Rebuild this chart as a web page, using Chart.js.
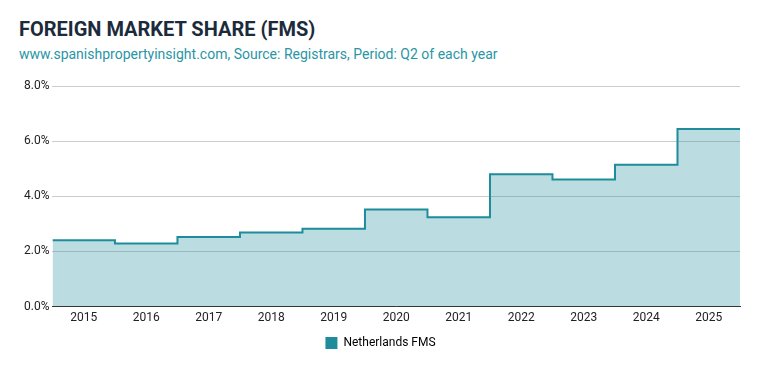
<!DOCTYPE html>
<html>
<head>
<meta charset="utf-8">
<script src="https://cdn.jsdelivr.net/npm/chart.js@4/dist/chart.umd.min.js"></script>
<style>
    body { margin: 0; background: #fff; font-family: Roboto, sans-serif; }
    #wrap { position: relative; width: 759px; height: 371px; }
    h1 { position: absolute; left: 19px; top: 17px; margin: 0; font-size: 20px; font-weight: 700; color: #1c2b3b; }
    p { position: absolute; left: 19px; top: 46px; margin: 0; font-size: 14px; color: #2a95a5; }
    #box { position: absolute; left: 0; top: 70px; width: 759px; height: 301px; }
</style>
</head>
<body>
<div id="wrap">
    <h1>FOREIGN MARKET SHARE (FMS)</h1>
    <p>www.spanishpropertyinsight.com, Source: Registrars, Period: Q2 of each year</p>
    <div id="box"><canvas id="fms-chart"></canvas></div>
</div>
<script>
const years = [2015, 2016, 2017, 2018, 2019, 2020, 2021, 2022, 2023, 2024, 2025];
const netherlandsFms = [2.41, 2.29, 2.52, 2.69, 2.82, 3.52, 3.24, 4.80, 4.61, 5.14, 6.44];
const seriesLabel = 'Netherlands FMS';

const lineColor = '#1f8c9b';

// each year covers its own band, so the steps sit between the years
const stepPoints = years.map((yr, i) => ({ x: yr - 0.5, y: netherlandsFms[i] }));
stepPoints.push({ x: years[years.length - 1] + 0.5, y: netherlandsFms[netherlandsFms.length - 1] });

const ctx = document.getElementById('fms-chart').getContext('2d');
new Chart(ctx, {
    type: 'line',
    data: {
        datasets: [{
            label: seriesLabel,
            data: stepPoints,
            stepped: true,
            borderColor: lineColor,
            borderWidth: 2,
            backgroundColor: 'rgba(31, 140, 155, 0.3)',
            fill: 'origin',
            pointRadius: 0,
        }]
    },
    options: {
        responsive: true,
        maintainAspectRatio: false,
        animation: false,
        layout: { padding: { left: 21, right: 19, top: 16, bottom: 12 } },
        plugins: {
            legend: {
                position: 'bottom',
                labels: {
                    boxWidth: 12,
                    boxHeight: 12,
                    padding: 8,
                    color: '#333',
                    font: { family: 'Roboto', size: 12 },
                    generateLabels: (chart) => chart.data.datasets.map((ds, i) => ({
                        text: ds.label,
                        fillStyle: ds.borderColor,
                        strokeStyle: ds.borderColor,
                        lineWidth: 0,
                        datasetIndex: i,
                    })),
                },
            },
            tooltip: { enabled: false },
        },
        scales: {
            x: {
                type: 'linear',
                min: years[0] - 0.5,
                max: years[years.length - 1] + 0.5,
                afterBuildTicks: (axis) => {
                    axis.ticks = years.map(v => ({ value: v }));
                },
                ticks: {
                    autoSkip: false,
                    maxRotation: 0,
                    padding: 4,
                    color: '#222',
                    font: { family: 'Roboto', size: 12 },
                    callback: (v) => String(v),
                },
                grid: { display: false, drawTicks: false },
                border: { display: true, color: '#333', width: 1 },
            },
            y: {
                min: 0,
                max: 8,
                ticks: {
                    stepSize: 2,
                    color: '#222',
                    font: { family: 'Roboto', size: 12 },
                    callback: (v) => v.toFixed(1) + '%',
                },
                grid: { color: '#cccccc', drawTicks: false },
                border: { display: false },
            },
        },
    },
});
</script>
</body>
</html>
